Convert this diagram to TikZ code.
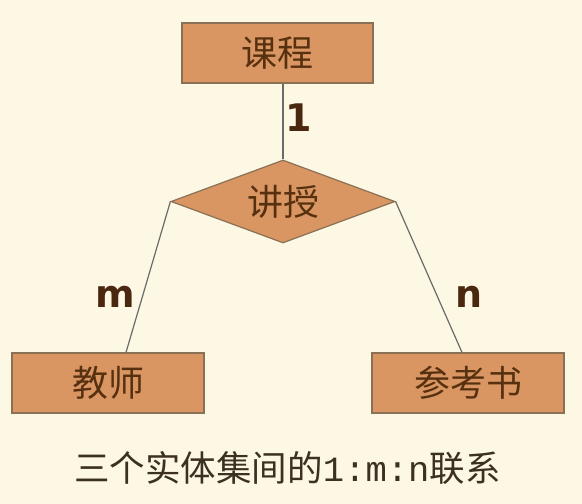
\documentclass[tikz,border=0pt]{standalone}
\usepackage{fontspec}
\newfontfamily\cjk{Noto Sans CJK SC}
\newfontfamily\lblfont{DejaVu Sans}
\newfontfamily\monofont{Liberation Mono}
\usetikzlibrary{shapes.geometric,calc}
\definecolor{bgc}{HTML}{FCF8E3}
\definecolor{boxfill}{HTML}{D99662}
\definecolor{boxline}{HTML}{8A7055}
\definecolor{boxtext}{HTML}{56300F}
\definecolor{linkc}{HTML}{6A6A6A}
\definecolor{lblc}{HTML}{4A2810}
\definecolor{capc}{HTML}{3C3020}
\tikzset{
  entity/.style={draw=boxline, line width=1.2pt, fill=boxfill, rectangle,
    minimum width=192pt, minimum height=60pt, inner sep=0pt,
    font=\cjk\fontsize{36}{40}\selectfont, text=boxtext},
  relation/.style={draw=boxline, line width=1.2pt, fill=boxfill, diamond,
    aspect=2.7, minimum width=224pt, minimum height=83pt, inner sep=0pt,
    font=\cjk\fontsize{36}{40}\selectfont, text=boxtext},
  link/.style={draw=linkc, line width=1.2pt},
  card/.style={font=\lblfont\bfseries\fontsize{38}{42}\selectfont, text=lblc, inner sep=0pt},
  caption/.style={font=\cjk\fontsize{35.5}{40}\selectfont, text=capc, inner sep=0pt}
}
\begin{document}
\begin{tikzpicture}[x=1pt,y=-1pt]
  \fill[bgc] (0,0) rectangle (582,504);
  \useasboundingbox (0,0) rectangle (582,504);
  \node[entity, minimum width=191pt] (kc) at (277.5,53) {课程};
  \node[relation] (jsh) at (283,201.5) {讲授};
  \node[entity] (teacher) at (108,383) {教师};
  \node[entity] (book) at (468,383) {参考书};
  \draw[link] (jsh.north) -- (jsh.north |- kc.south);
  \draw[link] (jsh.west) -- ($(teacher.north)+(18,0)$);
  \draw[link] (jsh.east) -- ($(book.north)+(-6,0)$);
  \node[card] (c1) at (299,118) {1};
  \node[card] (cm) at (115,297) {m};
  \node[card] (cn) at (469,297) {n};
  \node[caption] (cap) at (287.5,468) {三个实体集间的{\monofont 1:m:n}联系};
\end{tikzpicture}
\end{document}
